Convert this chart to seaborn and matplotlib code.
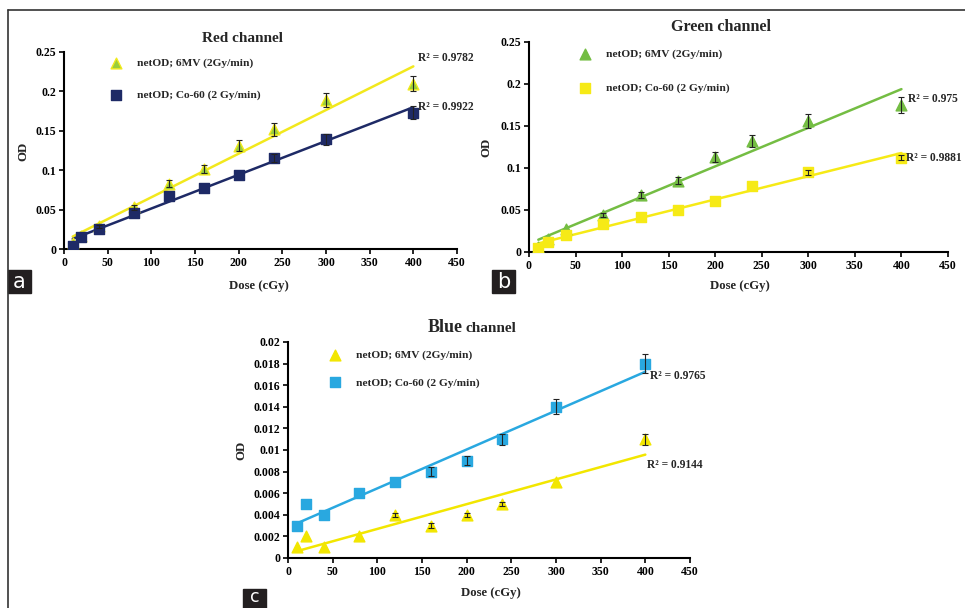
import matplotlib
matplotlib.use('Agg')
import matplotlib.pyplot as plt
import seaborn as sns
import numpy as np
from matplotlib.ticker import FuncFormatter
from matplotlib.lines import Line2D
from matplotlib.patches import Rectangle

# ---------------------------------------------------------------- data
dose = [10, 20, 40, 80, 120, 160, 200, 240, 300, 400]

red_6mv = [0.007, 0.016, 0.029, 0.053, 0.083, 0.102, 0.131, 0.152, 0.189, 0.210]
red_6mv_err = [0, 0, 0.002, 0.003, 0.004, 0.005, 0.007, 0.008, 0.009, 0.010]
red_co60 = [0.004, 0.015, 0.026, 0.046, 0.067, 0.078, 0.094, 0.116, 0.139, 0.173]
red_co60_err = [0, 0, 0, 0, 0, 0, 0, 0.005, 0.007, 0.008]

green_6mv = [0.006, 0.016, 0.027, 0.044, 0.068, 0.085, 0.113, 0.132, 0.156, 0.175]
green_6mv_err = [0, 0, 0, 0.002, 0.004, 0.004, 0.006, 0.007, 0.008, 0.009]
green_co60 = [0.005, 0.0115, 0.020, 0.033, 0.042, 0.050, 0.061, 0.078, 0.095, 0.112]
green_co60_err = [0, 0, 0, 0, 0, 0, 0, 0, 0.003, 0.003]

blue_6mv = [0.001, 0.002, 0.001, 0.002, 0.004, 0.003, 0.004, 0.005, 0.007, 0.011]
blue_6mv_err = [0, 0, 0, 0, 0.0002, 0.0002, 0.0002, 0.0002, 0, 0.0005]
blue_co60 = [0.003, 0.005, 0.004, 0.006, 0.007, 0.008, 0.009, 0.011, 0.014, 0.018]
blue_co60_err = [0, 0, 0, 0, 0, 0.0004, 0.0004, 0.0005, 0.0007, 0.0009]

label_6mv = 'netOD; 6MV (2Gy/min)'
label_co60 = 'netOD; Co-60 (2 Gy/min)'

r2_red = ['R² = 0.9782', 'R² = 0.9922']
r2_green = ['R² = 0.975', 'R² = 0.9881']
r2_blue = ['R² = 0.9765', 'R² = 0.9144']

SERIF = 'Liberation Serif'

sns.set_theme(style='white')
plt.rcParams['font.family'] = [SERIF, 'DejaVu Serif']
plt.rcParams['font.weight'] = 'bold'


def draw_series(ax, y, err, marker, face, edge, line, label):
    sns.regplot(x=dose, y=y, scatter=False, ci=None, truncate=True,
                color=line, line_kws={'lw': 1.8, 'zorder': 2}, ax=ax)
    sns.scatterplot(x=dose, y=y, marker=marker, s=60, color=face,
                    edgecolor=edge, linewidth=1.0, label=label, zorder=3, ax=ax)
    x = np.array(dose)
    y = np.array(y)
    e = np.array(err)
    m = e > 0
    ax.errorbar(x[m], y[m], yerr=e[m], fmt='none', ecolor='#222222',
                elinewidth=0.8, capsize=2.2, capthick=0.8, zorder=4)


def style_axes(ax, ymax, ystep, leg_anchor, leg_spacing):
    ax.set_xlim(0, 450)
    ax.set_ylim(0, ymax)
    ax.set_xticks(np.arange(0, 451, 50))
    ax.set_yticks(np.arange(0, ymax + ystep / 2, ystep))
    ax.yaxis.set_major_formatter(FuncFormatter(lambda v, p: '%g' % round(v, 4)))
    sns.despine(ax=ax)
    for sp in ['left', 'bottom']:
        ax.spines[sp].set_color('black')
        ax.spines[sp].set_linewidth(1.5)
    ax.tick_params(axis='both', direction='out', length=3.5, width=1.2,
                   color='black', labelsize=8.5, labelcolor='black',
                   left=True, bottom=True, pad=2)
    ax.set_xlabel('')
    ax.set_ylabel('')
    ax.legend(loc='upper left', bbox_to_anchor=leg_anchor, frameon=False,
              borderaxespad=0, borderpad=0, handletextpad=0.8,
              labelspacing=leg_spacing, prop={'family': SERIF, 'weight': 'bold', 'size': 8.2})


fig = plt.figure(figsize=(9.65, 6.08), dpi=100)
W, H = 965.0, 608.0


def px_axes(l, t, r, b):
    return fig.add_axes([l / W, 1 - b / H, (r - l) / W, (b - t) / H])


# ---------------------------------------------------------------- Red channel
ax_a = px_axes(64, 52, 457, 249)
draw_series(ax_a, red_6mv, red_6mv_err, '^', '#9ACD3C', '#F2EA1C', '#F2E81E', label_6mv)
draw_series(ax_a, red_co60, red_co60_err, 's', '#1E2A66', '#1E2A66', '#1E2A66', label_co60)
style_axes(ax_a, 0.25, 0.05, (0.104, 0.97), 1.9)
ax_a.text(405, 0.242, r2_red[0], fontsize=8.3, va='center', ha='left')
ax_a.text(405, 0.180, r2_red[1], fontsize=8.3, va='center', ha='left')

# ---------------------------------------------------------------- Green channel
ax_b = px_axes(529, 42, 948, 252)
draw_series(ax_b, green_6mv, green_6mv_err, '^', '#74BD43', '#74BD43', '#74BD43', label_6mv)
draw_series(ax_b, green_co60, green_co60_err, 's', '#F6EA16', '#F6EA16', '#F6EA16', label_co60)
style_axes(ax_b, 0.25, 0.05, (0.107, 0.967), 2.1)
ax_b.text(407, 0.182, r2_green[0], fontsize=8.3, va='center', ha='left')
ax_b.text(405, 0.112, r2_green[1], fontsize=8.3, va='center', ha='left')

# ---------------------------------------------------------------- Blue channel
ax_c = px_axes(288, 342, 690, 558)
draw_series(ax_c, blue_6mv, blue_6mv_err, '^', '#F2E600', '#F2E600', '#F2E600', label_6mv)
draw_series(ax_c, blue_co60, blue_co60_err, 's', '#29A8E0', '#29A8E0', '#29A8E0', label_co60)
style_axes(ax_c, 0.02, 0.002, (0.0896, 0.963), 1.5)
ax_c.text(405, 0.01685, r2_blue[0], fontsize=8.3, va='center', ha='left')
ax_c.text(402, 0.00861, r2_blue[1], fontsize=8.3, va='center', ha='left')

# ---------------------------------------------------------------- titles and labels
fig.text(243 / W, 1 - 38 / H, 'Red channel', fontsize=11, ha='center', va='center')
fig.text(721 / W, 1 - 27 / H, 'Green channel', fontsize=11.6, ha='center', va='center')
fig.text(463 / W, 1 - 328 / H, 'Blue', fontsize=13, ha='right', va='center')
fig.text(466 / W, 1 - 329 / H, 'channel', fontsize=11, ha='left', va='center')

for cx, cy in [(259, 286), (740, 286), (491, 593)]:
    fig.text(cx / W, 1 - cy / H, 'Dose (cGy)', fontsize=9.2, ha='center', va='center')
for cx, cy in [(23, 151), (486, 147), (241, 450)]:
    fig.text(cx / W, 1 - cy / H, 'OD', fontsize=9.2, ha='center', va='center', rotation=90)

# frame lines
fig.add_artist(Line2D([8 / W, 1], [1 - 10 / H, 1 - 10 / H], color='#333333', lw=1.2))
fig.add_artist(Line2D([8 / W, 8 / W], [0, 1 - 10 / H], color='#333333', lw=1.2))

# panel letters (the c box runs off the bottom edge, as in the source)
for letter, l, t, cy, fs in [('a', 8, 270, 282, 15), ('b', 492, 270, 282, 15),
                             ('c', 243, 589, 597, 12.5)]:
    fig.add_artist(Rectangle((l / W, 1 - (t + 23) / H), 23 / W, 23 / H,
                             transform=fig.transFigure, color='#231F20'))
    fig.text((l + 11.5) / W, 1 - cy / H, letter, color='white', fontsize=fs,
             fontweight='normal', family='DejaVu Sans', ha='center', va='center')

fig.savefig('out.png', dpi=100)
